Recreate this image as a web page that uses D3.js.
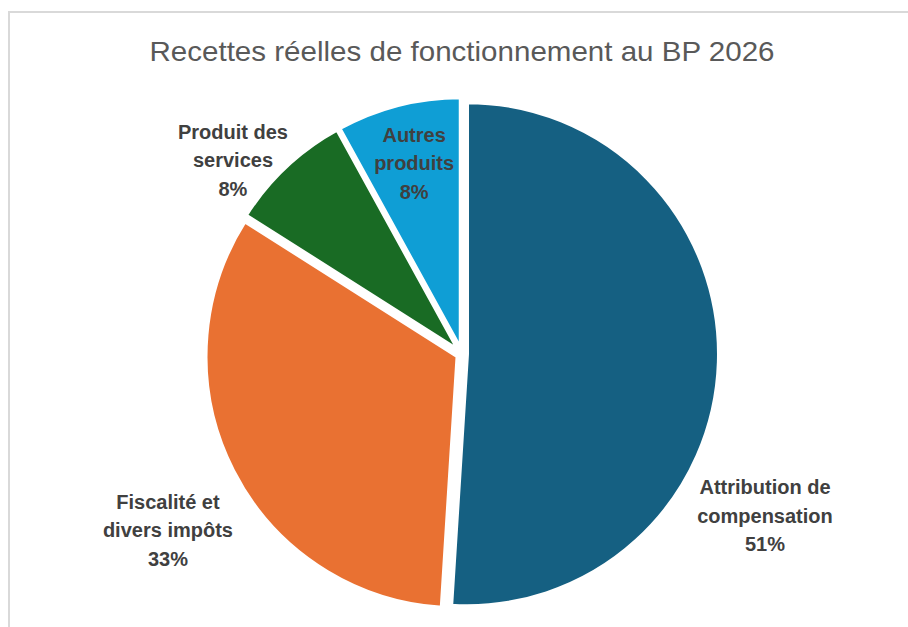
<!DOCTYPE html>
<html>
<head>
<meta charset="utf-8">
<script src="https://cdn.jsdelivr.net/npm/d3@7"></script>
<style>
  html, body { margin: 0; padding: 0; background: #ffffff; }
  svg { display: block; }
</style>
</head>
<body>
<svg id="chart" width="908" height="627"></svg>
<script>
// ---- Data ----
const title = "Recettes réelles de fonctionnement au BP 2026";
const categories = ["Attribution de compensation", "Fiscalité et divers impôts", "Produit des services", "Autres produits"];
const labelLines = [["Attribution de", "compensation"], ["Fiscalité et", "divers impôts"], ["Produit des", "services"], ["Autres", "produits"]];
const values = [51, 33, 8, 8];
const percentLabels = ["51%", "33%", "8%", "8%"];

// ---- Layout / style ----
const colors = ["#156082", "#E97132", "#196B24", "#0F9ED5"];
const W = 908, H = 627;
const cx = 462, cy = 354, R = 252, explode = 5;
// label anchor in polar coords (degrees clockwise from 12 o'clock, fraction of radius)
const labelPolar = [[118.1, 1.363], [239.1, 1.36], [310.2, 1.19], [345.9, 0.78]];
const fontFam = "'Liberation Sans Narrow', 'Liberation Sans', Arial, sans-serif";

const svg = d3.select("#chart");

// chart area border
svg.append("rect")
  .attr("x", 9).attr("y", 12).attr("width", 1200).attr("height", 1200)
  .attr("fill", "#ffffff").attr("stroke", "#d9d9d9").attr("stroke-width", 2);

// title
const t = svg.append("text")
  .attr("x", 462).attr("y", 61)
  .attr("text-anchor", "middle")
  .attr("font-family", fontFam)
  .attr("font-size", 28)
  .attr("fill", "#595959")
  .text(title);
const tw = t.node().getComputedTextLength();
if (Math.abs(tw - 625) > 8) {
  t.attr("textLength", 625).attr("lengthAdjust", "spacingAndGlyphs");
}

const pie = d3.pie().sort(null).value(d => d).startAngle(0).endAngle(2 * Math.PI);
const arcs = pie(values);
const arc = d3.arc().innerRadius(0).outerRadius(R);

const g = svg.append("g").attr("transform", `translate(${cx},${cy})`);

g.selectAll("path.slice")
  .data(arcs)
  .join("path")
  .attr("class", "slice")
  .attr("transform", d => {
    const a = (d.startAngle + d.endAngle) / 2;
    return `translate(${explode * Math.sin(a)},${-explode * Math.cos(a)})`;
  })
  .attr("d", arc)
  .attr("fill", (d, i) => colors[i])
  .attr("stroke", "#ffffff")
  .attr("stroke-width", 4)
  .attr("stroke-linejoin", "round");

// labels
const lineH = 28.5;
arcs.forEach((d, i) => {
  const [deg, f] = labelPolar[i];
  const a = deg * Math.PI / 180;
  const x = f * R * Math.sin(a);
  const y = -f * R * Math.cos(a) + 7;
  const lines = labelLines[i].concat([percentLabels[i]]);
  const txt = g.append("text")
    .attr("text-anchor", "middle")
    .attr("font-family", fontFam)
    .attr("font-weight", "bold")
    .attr("font-size", 20)
    .attr("fill", "#404040");
  lines.forEach((ln, k) => {
    txt.append("tspan")
      .attr("x", x)
      .attr("y", y + (k - 1) * lineH)
      .text(ln);
  });
});
</script>
</body>
</html>
